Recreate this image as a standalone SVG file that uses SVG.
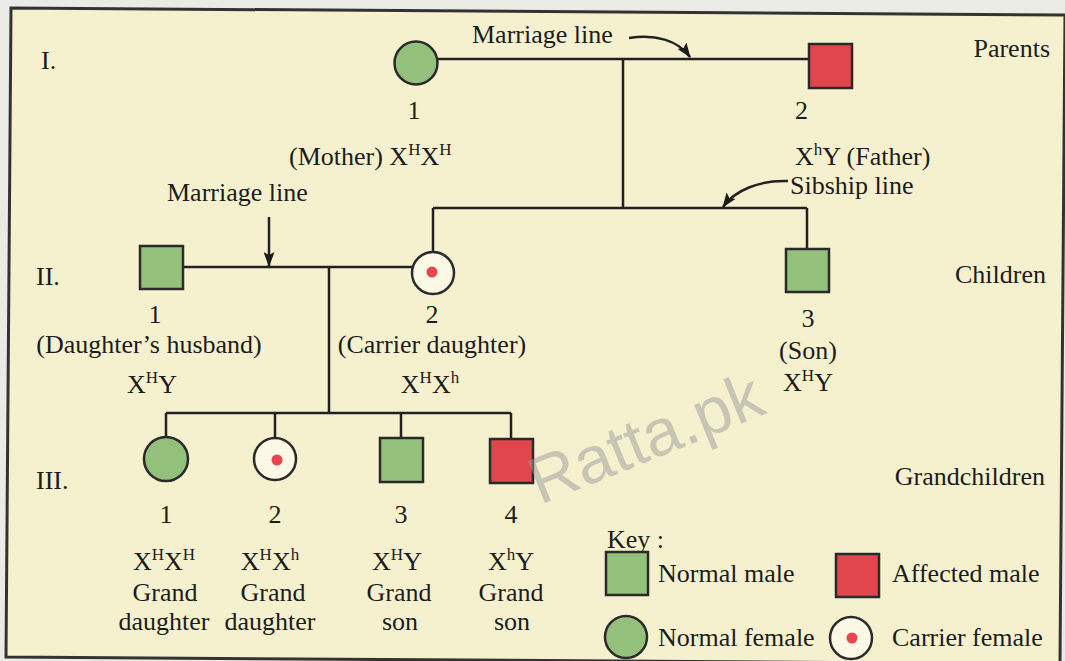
<svg xmlns="http://www.w3.org/2000/svg" width="1065" height="661" viewBox="0 0 1065 661">
<defs>
<style>
text{font-family:"Liberation Serif","Times New Roman",serif;font-size:26px;fill:#1c1c1c}
.sup{font-size:17px}
.mid{text-anchor:middle}
.end{text-anchor:end}
.ln{stroke:#222;stroke-width:2.5;fill:none}
.nm{fill:#93c07a;stroke:#2a2a2a;stroke-width:2.5}
.af{fill:#e0464c;stroke:#2a2a2a;stroke-width:2.5}
.cf{fill:#fbf8e6;stroke:#2a2a2a;stroke-width:2.5}
.dot{fill:#e8464e}
.wm{font-family:"Liberation Sans",Arial,sans-serif;font-size:66px;fill:#9a9a9a;fill-opacity:0.5}
</style>
<marker id="ah" markerUnits="userSpaceOnUse" markerWidth="15" markerHeight="11" refX="14" refY="5.5" orient="auto">
<path d="M0,0 L15,5.5 L0,11 L3,5.5 z" fill="#1c1c1c"/>
</marker>
</defs>
<rect width="1065" height="661" fill="#ebebe6"/>
<polygon points="11,8 1065,15 1060,664 6,657" fill="#f5f1cf" stroke="#333" stroke-width="3"/>

<g id="connectors">
<path class="ln" d="M437,59 H809"/>
<path class="ln" d="M623,59 V208"/>
<path class="ln" d="M433,208 H807"/>
<path class="ln" d="M433,208 V252"/>
<path class="ln" d="M807,208 V249"/>
<path class="ln" d="M183,267 H413"/>
<path class="ln" d="M329,267 V413"/>
<path class="ln" d="M166,413 H511"/>
<path class="ln" d="M166,413 V437"/>
<path class="ln" d="M275,413 V438"/>
<path class="ln" d="M401,413 V438"/>
<path class="ln" d="M511,413 V439"/>
<path class="ln" stroke-width="2" d="M629,38 C655,34 678,40 690,57" marker-end="url(#ah)"/>
<path class="ln" stroke-width="2" d="M788,181 C760,180 735,190 723,207" marker-end="url(#ah)"/>
<path class="ln" stroke-width="2" d="M269,217 V266" marker-end="url(#ah)"/>
</g>

<g id="labels">
<text x="41" y="69">I.</text>
<text x="36" y="285">II.</text>
<text x="36" y="489">III.</text>
<text x="472" y="43">Marriage line</text>
<text x="167" y="201">Marriage line</text>
<text x="790" y="194">Sibship line</text>
<text class="end" x="1050" y="57">Parents</text>
<text class="end" x="1046" y="283">Children</text>
<text class="end" x="1045" y="485">Grandchildren</text>
</g>

<g id="I-1">
<circle class="nm" cx="416" cy="63" r="21.5"/>
<text class="mid" x="414" y="119">1</text>
<text x="289" y="165">(Mother) X<tspan class="sup" dy="-10">H</tspan><tspan dy="10">X</tspan><tspan class="sup" dy="-10">H</tspan></text>
</g>
<g id="I-2">
<rect class="af" x="809" y="44" width="43" height="44"/>
<text x="795" y="119">2</text>
<text x="795" y="165">X<tspan class="sup" dy="-10">h</tspan><tspan dy="10">Y (Father)</tspan></text>
</g>

<g id="II-1">
<rect class="nm" x="140" y="246" width="43" height="43"/>
<text class="mid" x="155" y="323">1</text>
<text class="mid" x="149" y="353">(Daughter’s husband)</text>
<text class="mid" x="152" y="393">X<tspan class="sup" dy="-10">H</tspan><tspan dy="10">Y</tspan></text>
</g>
<g id="II-2">
<circle class="cf" cx="433" cy="273" r="21"/>
<circle class="dot" cx="432" cy="272" r="5.5"/>
<text class="mid" x="432" y="323">2</text>
<text class="mid" x="432" y="353">(Carrier daughter)</text>
<text class="mid" x="430" y="393">X<tspan class="sup" dy="-10">H</tspan><tspan dy="10">X</tspan><tspan class="sup" dy="-10">h</tspan></text>
</g>
<g id="II-3">
<rect class="nm" x="786" y="249" width="43" height="43"/>
<text class="mid" x="808" y="327">3</text>
<text class="mid" x="808" y="359">(Son)</text>
<text class="mid" x="808" y="391">X<tspan class="sup" dy="-10">H</tspan><tspan dy="10">Y</tspan></text>
</g>

<g id="III-1">
<circle class="nm" cx="166" cy="459" r="22"/>
<text class="mid" x="166" y="523">1</text>
<text class="mid" x="164" y="570">X<tspan class="sup" dy="-10">H</tspan><tspan dy="10">X</tspan><tspan class="sup" dy="-10">H</tspan></text>
<text class="mid" x="165" y="601">Grand</text>
<text class="mid" x="164" y="630">daughter</text>
</g>
<g id="III-2">
<circle class="cf" cx="275" cy="459" r="21"/>
<circle class="dot" cx="277" cy="460" r="5.5"/>
<text class="mid" x="275" y="523">2</text>
<text class="mid" x="270" y="570">X<tspan class="sup" dy="-10">H</tspan><tspan dy="10">X</tspan><tspan class="sup" dy="-10">h</tspan></text>
<text class="mid" x="273" y="601">Grand</text>
<text class="mid" x="270" y="630">daughter</text>
</g>
<g id="III-3">
<rect class="nm" x="380" y="438" width="43" height="44"/>
<text class="mid" x="401" y="523">3</text>
<text class="mid" x="397" y="570">X<tspan class="sup" dy="-10">H</tspan><tspan dy="10">Y</tspan></text>
<text class="mid" x="399" y="601">Grand</text>
<text class="mid" x="400" y="630">son</text>
</g>
<g id="III-4">
<rect class="af" x="490" y="439" width="43" height="44"/>
<text class="mid" x="511" y="523">4</text>
<text class="mid" x="511" y="570">X<tspan class="sup" dy="-10">h</tspan><tspan dy="10">Y</tspan></text>
<text class="mid" x="511" y="601">Grand</text>
<text class="mid" x="512" y="630">son</text>
</g>

<g id="key">
<text x="607" y="548">Key :</text>
<rect class="nm" x="606" y="552" width="42" height="43"/>
<text x="658" y="582">Normal male</text>
<rect class="af" x="836" y="554" width="43" height="43"/>
<text x="892" y="582">Affected male</text>
<circle class="nm" cx="626" cy="637" r="21"/>
<text x="658" y="646">Normal female</text>
<circle class="cf" cx="851" cy="638" r="21"/>
<circle class="dot" cx="852" cy="638" r="5.5"/>
<text x="892" y="646">Carrier female</text>
</g>

<text class="wm" transform="translate(540,505) rotate(-22)">Ratta.pk</text>
</svg>
